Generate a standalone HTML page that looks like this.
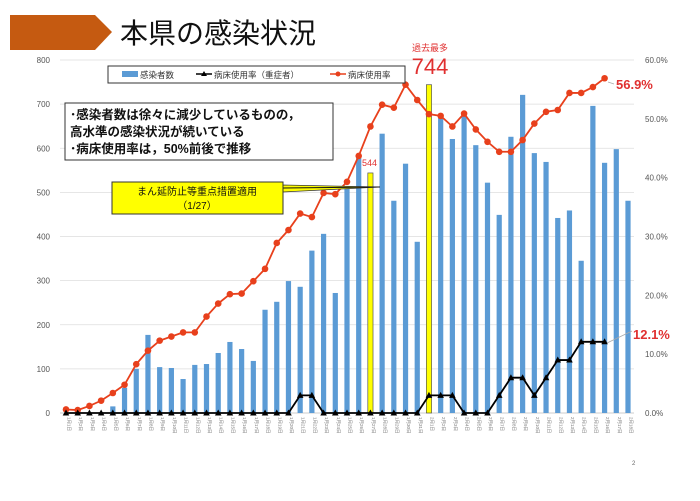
<!DOCTYPE html>
<html><head><meta charset="utf-8"><style>
body{margin:0;background:#fff;width:700px;height:496px;overflow:hidden;font-family:"Liberation Sans","Noto Sans CJK JP",sans-serif;}
svg text{font-family:"Liberation Sans","Noto Sans CJK JP",sans-serif;}
</style></head><body>
<svg id="chart" width="700" height="496">
<polygon points="10,15 95,15 112,32 95,50 10,50" fill="#c55a11"/>
<text x="120" y="43" font-size="28" fill="#111">本県の感染状況</text>
<g id="grid"></g><g id="bars"></g><g id="lines"></g><g id="labels"></g>
<rect x="65" y="103" width="268" height="57" fill="#fff" stroke="#333" stroke-width="1"/>
<text x="70" y="119" font-size="12.5" font-weight="bold" fill="#111">･感染者数は徐々に減少しているものの，</text>
<text x="70" y="136" font-size="12.5" font-weight="bold" fill="#111">高水準の感染状況が続いている</text>
<text x="70" y="153" font-size="12.5" font-weight="bold" fill="#111">･病床使用率は，50%前後で推移</text>
<polygon points="283,185 283,192 380,187" fill="#ffff00" stroke="#333" stroke-width="0.8"/>
<line x1="283" y1="188" x2="380" y2="187" stroke="#111" stroke-width="1"/>
<rect x="112" y="182" width="171" height="32" fill="#ffff00" stroke="#333" stroke-width="1"/>
<text x="197" y="195" font-size="10" text-anchor="middle" fill="#111">まん延防止等重点措置適用</text>
<text x="197" y="209" font-size="10" text-anchor="middle" fill="#111">（1/27）</text>
<text x="430" y="51" font-size="9" text-anchor="middle" fill="#e03030">過去最多</text>
<text x="430" y="74" font-size="22" text-anchor="middle" fill="#e03030">744</text>
<text x="362" y="166" font-size="9" fill="#e03030">544</text>
<rect x="108" y="66" width="297" height="17" fill="#fff" stroke="#333" stroke-width="1"/>
<g><rect x="122" y="71" width="16" height="6" fill="#5b9bd5"/><text x="140" y="78" font-size="8.5" fill="#333">感染者数</text></g>
<g><line x1="196" y1="74" x2="212" y2="74" stroke="#000" stroke-width="1.5"/><polygon points="204,71 207,76 201,76" fill="#000"/><text x="214" y="78" font-size="8.5" fill="#333">病床使用率（重症者）</text></g>
<g><line x1="330" y1="74" x2="346" y2="74" stroke="#e8401c" stroke-width="1.5"/><circle cx="338" cy="74" r="2.5" fill="#e8401c"/><text x="348" y="78" font-size="8.5" fill="#333">病床使用率</text></g>
<line x1="608" y1="82" x2="614" y2="84" stroke="#aaa" stroke-width="0.8"/>
<text x="616" y="89" font-size="13" font-weight="bold" fill="#e03030">56.9%</text>
<line x1="607" y1="343" x2="632" y2="331" stroke="#aaa" stroke-width="0.8"/>
<text x="633" y="339" font-size="13" font-weight="bold" fill="#e03030">12.1%</text>
<text x="632" y="465" font-size="6" fill="#666">2</text>
</svg>
<script>
const categories=[];for(let d=1;d<=31;d++)categories.push('1月'+d+'日');for(let d=1;d<=18;d++)categories.push('2月'+d+'日');
const cases=[0,0,0,0,15,57,100,177,104,102,77,109,111,136,161,145,118,234,252,299,286,368,406,272,510,580,544,633,481,565,388,744,669,621,680,607,522,449,626,721,589,569,442,459,345,696,567,598,481];
const bedRate=[0.6,0.5,1.2,2.1,3.4,4.8,8.3,10.6,12.3,13.0,13.7,13.7,16.4,18.6,20.2,20.3,22.4,24.5,28.9,31.1,33.9,33.3,37.4,37.2,39.3,43.7,48.7,52.4,51.9,55.8,53.2,50.8,50.5,48.7,50.9,48.2,46.1,44.4,44.4,46.4,49.2,51.2,51.5,54.4,54.4,55.4,56.9,null,null];
const severeRate=[0,0,0,0,0,0,0,0,0,0,0,0,0,0,0,0,0,0,0,0,3,3,0,0,0,0,0,0,0,0,0,3,3,3,0,0,0,3,6,6,3,6,9,9,12.1,12.1,12.1,null,null];
const leftTicks=[0,100,200,300,400,500,600,700,800];
const rightTicks=['0.0%','10.0%','20.0%','30.0%','40.0%','50.0%','60.0%'];
const highlight=[26,31];
const X0=66,X1=628,Y0=413,Y1=60;
const x=i=>X0+(X1-X0)*i/(categories.length-1);
const yL=v=>Y0-(Y0-Y1)*v/800;
const yR=v=>Y0-(Y0-Y1)*v/60;
const NS='http://www.w3.org/2000/svg';
function mk(t,a,p){const e=document.createElementNS(NS,t);for(const k in a)e.setAttribute(k,a[k]);p.appendChild(e);return e;}
const grid=document.getElementById('grid'),bars=document.getElementById('bars'),lines=document.getElementById('lines'),labels=document.getElementById('labels');
leftTicks.forEach((v,i)=>{
 const l=mk('line',{x1:60,x2:634,y1:yL(v),y2:yL(v),stroke:i==0?'#bbb':'#ddd','stroke-width':0.8},grid);
 
 
 const t=mk('text',{x:50,y:yL(v)+3,'font-size':8,'text-anchor':'end',fill:'#555'},labels);t.textContent=v;
 
 
});
rightTicks.forEach((s,i)=>{
 const t=mk('text',{x:645,y:yR(i*10)+3,'font-size':8,fill:'#555'},labels);t.textContent=s;
 
 
});
cases.forEach((v,i)=>{
 const hl=highlight.includes(i);
 const r=mk('rect',{x:x(i)-2.6,y:yL(v),width:5.2,height:Y0-yL(v),fill:hl?'#ffff00':'#5b9bd5',stroke:hl?'#555':'none','stroke-width':0.7},bars);
 
 
 const t=mk('text',{'font-size':4.5,fill:'#777',transform:`translate(${x(i)+1.5},417) rotate(90)`},labels);t.textContent=categories[i];
 
 
});
function series(arr,color,name,marker){
 const pts=arr.map((v,i)=>v==null?null:[x(i),yR(v)]).filter(p=>p);
 const pl=mk('polyline',{points:pts.map(p=>p.join(',')).join(' '),fill:'none',stroke:color,'stroke-width':1.8},lines);
 
 
 pts.forEach(p=>{
  let m;
  if(marker=='c')m=mk('circle',{cx:p[0],cy:p[1],r:3.3,fill:color},lines);
  else m=mk('polygon',{points:`${p[0]},${p[1]-3.5} ${p[0]+3.3},${p[1]+2.5} ${p[0]-3.3},${p[1]+2.5}`,fill:color},lines);
  
  
 });
}
series(bedRate,'#e8401c','bed-rate','c');
series(severeRate,'#000','severe-rate','t');
</script>
</body></html>
